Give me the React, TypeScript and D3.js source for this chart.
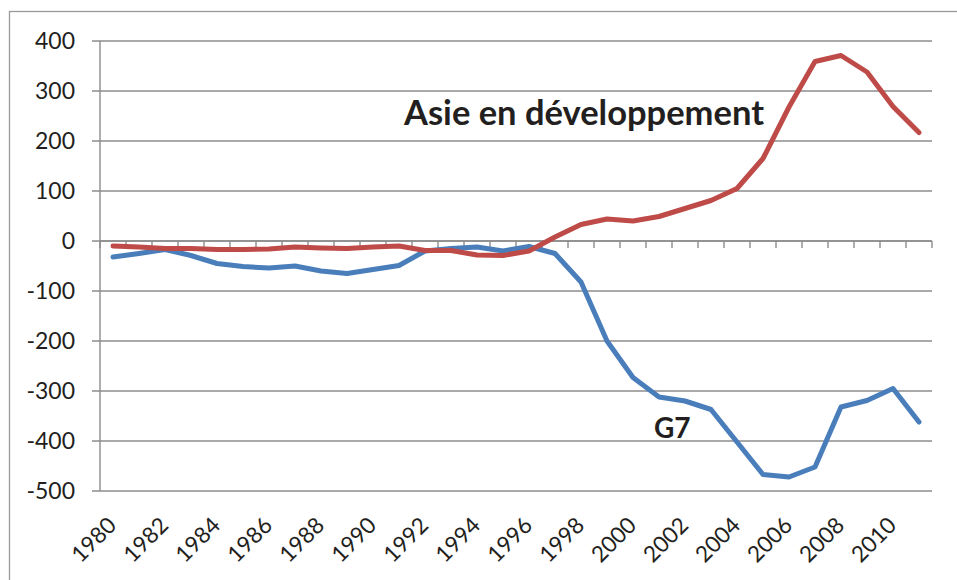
import React from "react";
import * as d3 from "d3";

const years: number[] = [
  1980, 1981, 1982, 1983, 1984, 1985, 1986, 1987, 1988, 1989, 1990, 1991,
  1992, 1993, 1994, 1995, 1996, 1997, 1998, 1999, 2000, 2001, 2002, 2003,
  2004, 2005, 2006, 2007, 2008, 2009, 2010, 2011,
];

const asie: number[] = [
  -10, -12, -15, -15, -17, -17, -16, -12, -14, -15, -12, -10,
  -19, -19, -28, -29, -20, 8, 33, 44, 40, 49, 65, 81,
  105, 165, 268, 359, 371, 338, 269, 217,
];

const g7: number[] = [
  -32, -25, -17, -29, -45, -51, -54, -50, -60, -65, -57, -49,
  -20, -15, -12, -20, -11, -25, -82, -200, -273, -312, -320, -337,
  -402, -467, -472, -452, -332, -319, -295, -362,
];

const yTicks: number[] = [400, 300, 200, 100, 0, -100, -200, -300, -400, -500];
const xLabelYears: number[] = years.filter((y) => (y - 1980) % 2 === 0);

const W = 957;
const H = 580;
const plotL = 100;
const plotR = 932;
const plotT = 41;
const plotB = 491;

const FONT = "Lato, 'Open Sans', sans-serif";
const GRID = "#8c8c8c";
const TEXT = "#231f20";

export default function App() {
  const x = d3.scaleBand<number>().domain(years).range([plotL, plotR]);
  const y = d3.scaleLinear().domain([-500, 400]).range([plotB, plotT]);
  const cx = (yr: number) => (x(yr) as number) + x.bandwidth() / 2;

  const line = d3
    .line<number>()
    .x((_, i) => cx(years[i]))
    .y((d) => y(d));

  const tickXs = years.map((yr) => x(yr) as number).concat([plotR]);

  return (
    <svg
      width={W}
      height={H}
      style={{ position: "absolute", left: 0, top: 0, background: "#fff" }}
    >
      <rect x={0} y={0} width={W} height={H} fill="#fff" />
      <rect x={9.5} y={11.5} width={W + 20} height={H + 20} fill="none" stroke="#9a9a9a" strokeWidth={1.3} />

      {yTicks.map((t) => (
        <line key={t} x1={plotL - 8} x2={plotR} y1={y(t)} y2={y(t)} stroke={GRID} strokeWidth={1.4} />
      ))}
      <line x1={plotL} x2={plotL} y1={plotT} y2={plotB} stroke={GRID} strokeWidth={1.4} />
      <line x1={plotL} x2={plotR} y1={y(0)} y2={y(0)} stroke={GRID} strokeWidth={1.4} />
      {tickXs.map((tx, i) => (
        <line key={i} x1={tx} x2={tx} y1={y(0)} y2={y(0) + 7} stroke={GRID} strokeWidth={1.4} />
      ))}

      {yTicks.map((t) => (
        <text
          key={t}
          x={75}
          y={y(t)}
          dy="0.36em"
          textAnchor="end"
          fontFamily={FONT}
          fontSize={23}
          fill={TEXT}
        >
          {t}
        </text>
      ))}

      {xLabelYears.map((yr) => (
        <text
          key={yr}
          transform={`translate(${cx(yr) - 1},${plotB + 30}) rotate(-45)`}
          dy="0.36em"
          textAnchor="end"
          fontFamily={FONT}
          fontSize={22.5}
          fill={TEXT}
        >
          {yr}
        </text>
      ))}

      <path d={line(g7) || ""} fill="none" stroke="#4a7ebb" strokeWidth={5} strokeLinejoin="round" strokeLinecap="round" />
      <path d={line(asie) || ""} fill="none" stroke="#be4b48" strokeWidth={5} strokeLinejoin="round" strokeLinecap="round" />

      <text x={404} y={125} fontFamily={FONT} fontWeight="bold" fontSize={34.5} fill={TEXT}>
        Asie en développement
      </text>
      <text x={654} y={438} fontFamily={FONT} fontWeight="bold" fontSize={28} fill={TEXT}>
        G7
      </text>
    </svg>
  );
}
